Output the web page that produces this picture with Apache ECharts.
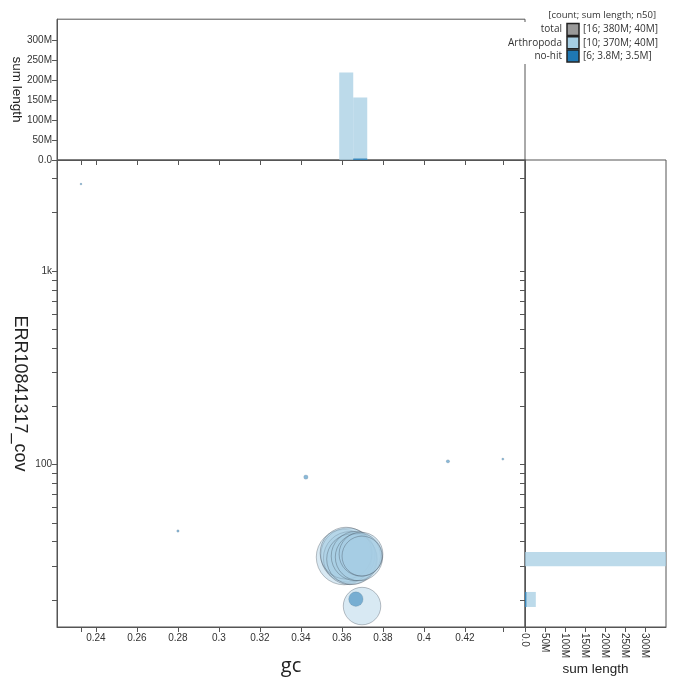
<!DOCTYPE html>
<html>
<head>
<meta charset="utf-8">
<script src="https://cdn.jsdelivr.net/npm/echarts@6/dist/echarts.min.js"></script>
<style>
html, body { margin: 0; padding: 0; background: #fff; }
#chart { width: 680px; height: 687px; }
</style>
</head>
<body>
<div id="chart"></div>
<script>
// scaffolds: gc, coverage and length
const arthropodaGc = [0.3610, 0.3629, 0.3639, 0.3620, 0.3649, 0.3668, 0.3683, 0.3693, 0.3698, 0.3698]
const arthropodaCov = [33.3, 34.1, 32.9, 34.9, 32.5, 33.7, 33.3, 34.5, 33.7, 18.6]
const arthropodaLen = [48e6, 46e6, 44e6, 42e6, 40e6, 38e6, 35e6, 30e6, 25e6, 22e6]
const nohitGc = [0.2327, 0.2800, 0.3424, 0.3668, 0.4117, 0.4385]
const nohitCov = [2812, 45.4, 86.2, 20.2, 104, 106.8]
const nohitLen = [0.05e6, 0.1e6, 0.3e6, 3.3e6, 0.18e6, 0.08e6]

// histogram bins (top: gc, right: coverage)
const gcBinLo = [0.35868, 0.36551]
const gcBinHi = [0.36551, 0.37234]
const gcHistArthropoda = [219e6, 156e6]
const gcHistNohit = [0, 3.8e6]
const covBinLo = [29.9, 18.4]
const covBinHi = [35.4, 22.0]
const covHistArthropoda = [352e6, 27e6]
const covHistNohit = [0, 3.5e6]

// ticks
const gcTicks = [0.2327, 0.24, 0.26, 0.28, 0.30, 0.32, 0.34, 0.36, 0.38, 0.40, 0.42, 0.4385]
const gcLabels = [0.24, 0.26, 0.28, 0.30, 0.32, 0.34, 0.36, 0.38, 0.40, 0.42]
const lengthLabels = [0, 50e6, 100e6, 150e6, 200e6, 250e6, 300e6]
const covLabels = [100, 1000]
const covTicks = [20, 30, 40, 50, 60, 70, 80, 90, 100, 200, 300, 400, 500, 600, 700, 800, 900, 1000, 2000, 3000]

// legend
const legendNames = ['total', 'Arthropoda', 'no-hit']
const legendStats = ['[16; 380M; 40M]', '[10; 370M; 40M]', '[6; 3.8M; 3.5M]']
const legendColors = ['#999999', '#a6cee3', '#1f78b4']

const GC_MIN = 0.221, GC_MAX = 0.4493
const COV_MIN = 14.5, COV_MAX = 3745
const LEN_MAX = 352e6
const AXIS_COLOR = '#555'
const labelFont = { fontFamily: 'Liberation Sans', fontSize: 10, color: '#333' }

const fmtLen = (v) => v === 0 ? '0.0' : Math.round(v / 1e6) + 'M'
const log10 = (v) => Math.log10(v)

const toScatter = (gc, cov, len) => gc.map((g, i) => [g, cov[i], len[i]])
const toBins = (lo, hi, vals) => vals.map((v, i) => [lo[i], hi[i], v]).filter(d => d[2] > 0)

// bars for the gc histogram (vertical)
const gcBarItem = (fill) => (params, api) => {
  const p0 = api.coord([api.value(0), api.value(2)])
  const p1 = api.coord([api.value(1), 0])
  return { type: 'rect', shape: { x: p0[0], y: p0[1], width: p1[0] - p0[0], height: p1[1] - p0[1] }, style: { fill: fill } }
}
// bars for the coverage histogram (horizontal)
const covBarItem = (fill) => (params, api) => {
  const p0 = api.coord([0, api.value(1)])
  const p1 = api.coord([api.value(2), api.value(0)])
  return { type: 'rect', shape: { x: p0[0], y: p0[1], width: p1[0] - p0[0], height: p1[1] - p0[1] }, style: { fill: fill } }
}

const chart = echarts.init(document.getElementById('chart'))

const baseAxisLine = { show: true, lineStyle: { color: AXIS_COLOR, width: 1 } }
const baseTick = { show: true, length: 5, lineStyle: { color: AXIS_COLOR } }

// legend drawn as graphic elements
const legendGraphic = [
  { type: 'rect', shape: { x: 505, y: 22, width: 175, height: 42 }, style: { fill: '#fff' }, z: 10 },
  { type: 'text', x: 656, y: 15, z: 11,
    style: { text: '[count; sum length; n50]', font: '9.5px "Open Sans"', fill: '#333', align: 'right', textAlign: 'right', verticalAlign: 'middle', textVerticalAlign: 'middle' } }
]
legendNames.forEach((name, i) => {
  const y = 29.5 + i * 13.2
  legendGraphic.push(
    { type: 'text', x: 562, y: y, z: 11,
      style: { text: name, font: '10px "Open Sans"', fill: '#333', align: 'right', textAlign: 'right', verticalAlign: 'middle', textVerticalAlign: 'middle' } },
    { type: 'rect', z: 11, shape: { x: 567, y: y - 6, width: 12, height: 12 },
      style: { fill: legendColors[i], stroke: '#222', lineWidth: 1.5 } },
    { type: 'text', x: 583, y: y, z: 11,
      style: { text: legendStats[i], font: '10px "Open Sans"', fill: '#333', align: 'left', textAlign: 'left', verticalAlign: 'middle', textVerticalAlign: 'middle' } }
  )
})

const gridBase = { show: true, borderColor: AXIS_COLOR, borderWidth: 1, containLabel: false, outerBoundsMode: 'none' }

const option = {
  animation: false,
  backgroundColor: '#fff',
  grid: [
    { ...gridBase, left: 57, top: 19.2, width: 468, height: 140.8 },
    { ...gridBase, left: 57, top: 160, width: 468, height: 467 },
    { ...gridBase, left: 525, top: 160, width: 141, height: 467 }
  ],
  xAxis: [
    {
      gridIndex: 0, type: 'value', min: GC_MIN, max: GC_MAX, position: 'bottom',
      axisLine: baseAxisLine, axisTick: { ...baseTick, customValues: gcTicks },
      axisLabel: { show: false }, splitLine: { show: false }
    },
    {
      gridIndex: 1, type: 'value', min: GC_MIN, max: GC_MAX, position: 'bottom',
      name: 'gc', nameLocation: 'middle', nameGap: 29, nameMoveOverlap: false,
      nameTextStyle: { fontFamily: 'Open Sans', fontSize: 20, color: '#222' },
      axisLine: baseAxisLine, axisTick: { ...baseTick, customValues: gcTicks },
      axisLabel: { ...labelFont, margin: 6, customValues: gcLabels, formatter: (v) => String(+v.toFixed(2)) },
      splitLine: { show: false }
    },
    {
      gridIndex: 2, type: 'value', min: 0, max: LEN_MAX, position: 'bottom',
      name: 'sum length', nameLocation: 'middle', nameGap: 35, nameMoveOverlap: false,
      nameTextStyle: { fontFamily: 'Liberation Sans', fontSize: 13.5, color: '#222' },
      axisLine: baseAxisLine, axisTick: { ...baseTick, customValues: lengthLabels },
      axisLabel: { ...labelFont, margin: 6, rotate: -90, customValues: lengthLabels, formatter: fmtLen },
      splitLine: { show: false }
    }
  ],
  yAxis: [
    {
      gridIndex: 0, type: 'value', min: 0, max: LEN_MAX, position: 'left',
      name: 'sum length', nameLocation: 'middle', nameGap: 33, nameRotate: -90, nameMoveOverlap: false,
      nameTextStyle: { fontFamily: 'Liberation Sans', fontSize: 13.5, color: '#222' },
      axisLine: baseAxisLine, axisTick: { ...baseTick, customValues: lengthLabels },
      axisLabel: { ...labelFont, margin: 5, customValues: lengthLabels, formatter: fmtLen },
      splitLine: { show: false }
    },
    {
      gridIndex: 1, type: 'log', logBase: 10, min: COV_MIN, max: COV_MAX, position: 'right', show: false,
      splitLine: { show: false }
    },
    {
      gridIndex: 2, type: 'log', logBase: 10, min: COV_MIN, max: COV_MAX, position: 'right', show: false,
      splitLine: { show: false }
    },
    {
      // visible coverage axis of the main plot, drawn in log10 units
      gridIndex: 1, type: 'value', min: log10(COV_MIN), max: log10(COV_MAX), position: 'left',
      name: 'ERR10841317_cov', nameLocation: 'middle', nameGap: 28, nameRotate: -90, nameMoveOverlap: false,
      nameTextStyle: { fontFamily: 'Liberation Sans', fontSize: 18, color: '#222' },
      axisLine: baseAxisLine, axisTick: { ...baseTick, customValues: covTicks.map(log10) },
      axisLabel: { ...labelFont, margin: 5, customValues: covLabels.map(log10),
        formatter: (v) => { const n = Math.round(Math.pow(10, v)); return n >= 1000 ? n / 1000 + 'k' : String(n) } },
      splitLine: { show: false }
    },
    {
      gridIndex: 2, type: 'value', min: log10(COV_MIN), max: log10(COV_MAX), position: 'left',
      axisLine: baseAxisLine, axisTick: { ...baseTick, customValues: covTicks.map(log10) },
      axisLabel: { show: false }, splitLine: { show: false }
    }
  ],
  series: [
    {
      type: 'custom', xAxisIndex: 0, yAxisIndex: 0, clip: true,
      renderItem: gcBarItem('rgba(166,206,227,0.75)'),
      data: toBins(gcBinLo, gcBinHi, gcHistArthropoda)
    },
    {
      type: 'custom', xAxisIndex: 0, yAxisIndex: 0, clip: true,
      renderItem: gcBarItem('rgba(31,120,180,0.8)'),
      data: toBins(gcBinLo, gcBinHi, gcHistNohit)
    },
    {
      type: 'scatter', xAxisIndex: 1, yAxisIndex: 1,
      symbolSize: (v) => 8 * Math.sqrt(v[2] / 1e6),
      itemStyle: { color: 'rgba(166,206,227,0.55)', borderColor: 'rgba(50,60,70,0.4)', borderWidth: 1 },
      data: toScatter(arthropodaGc, arthropodaCov, arthropodaLen)
    },
    {
      type: 'scatter', xAxisIndex: 1, yAxisIndex: 1,
      symbolSize: (v) => Math.max(2, 8 * Math.sqrt(v[2] / 1e6)),
      itemStyle: { color: 'rgba(31,120,180,0.65)', borderColor: 'rgba(50,60,70,0.3)', borderWidth: 0.5 },
      data: toScatter(nohitGc, nohitCov, nohitLen)
    },
    {
      type: 'custom', xAxisIndex: 2, yAxisIndex: 2, clip: true,
      renderItem: covBarItem('rgba(166,206,227,0.75)'),
      data: toBins(covBinLo, covBinHi, covHistArthropoda)
    },
    {
      type: 'custom', xAxisIndex: 2, yAxisIndex: 2, clip: true,
      renderItem: covBarItem('rgba(31,120,180,0.8)'),
      data: toBins(covBinLo, covBinHi, covHistNohit)
    }
  ],
  graphic: legendGraphic
}

chart.setOption(option)
</script>
</body>
</html>
